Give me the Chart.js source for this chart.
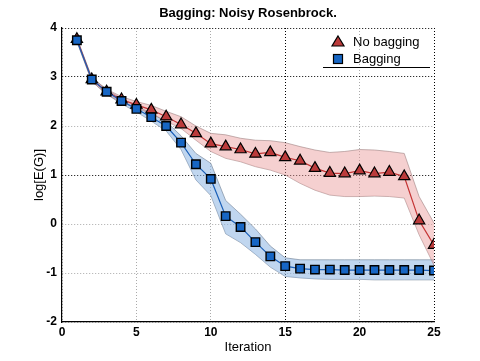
<!DOCTYPE html>
<html>
<head>
<meta charset="utf-8">
<script src="https://cdn.jsdelivr.net/npm/chart.js@4"></script>
<style>
  html, body { margin: 0; padding: 0; background: #fff; }
  #wrap { width: 480px; height: 361px; }
</style>
</head>
<body>
<div id="wrap"><canvas id="chart" width="480" height="361"></canvas></div>
<script>
// Iterations on the x axis
const iterations = [1, 2, 3, 4, 5, 6, 7, 8, 9, 10, 11, 12, 13, 14, 15, 16, 17, 18, 19, 20, 21, 22, 23, 24, 25];

// No bagging: mean and shaded band
const noBagMean  = [3.77, 2.95, 2.70, 2.54, 2.43, 2.33, 2.19, 2.03, 1.85, 1.64, 1.58, 1.52, 1.43, 1.46, 1.36, 1.29, 1.14, 1.04, 1.03, 1.09, 1.03, 1.06, 0.97, 0.07, -0.43];
const noBagUpper = [3.80, 2.99, 2.75, 2.60, 2.50, 2.42, 2.30, 2.19, 2.00, 1.85, 1.82, 1.75, 1.71, 1.70, 1.66, 1.58, 1.51, 1.46, 1.48, 1.52, 1.51, 1.48, 1.44, 0.56, 0.02];
const noBagLower = [3.74, 2.91, 2.65, 2.48, 2.37, 2.25, 2.10, 1.95, 1.71, 1.48, 1.34, 1.27, 1.17, 1.10, 1.00, 0.83, 0.69, 0.59, 0.56, 0.56, 0.57, 0.56, 0.53, -0.22, -0.84];

// Bagging: mean and shaded band
const bagMean  = [3.75, 2.95, 2.70, 2.51, 2.35, 2.18, 2.00, 1.66, 1.22, 0.92, 0.16, -0.06, -0.37, -0.66, -0.86, -0.91, -0.93, -0.93, -0.94, -0.94, -0.94, -0.94, -0.94, -0.94, -0.95];
const bagUpper = [3.78, 2.99, 2.74, 2.56, 2.41, 2.26, 2.09, 1.80, 1.44, 1.24, 0.48, 0.20, -0.10, -0.45, -0.69, -0.73, -0.73, -0.73, -0.73, -0.73, -0.73, -0.73, -0.73, -0.73, -0.73];
const bagLower = [3.72, 2.91, 2.65, 2.45, 2.29, 2.10, 1.90, 1.52, 0.90, 0.58, -0.20, -0.38, -0.62, -0.88, -1.07, -1.10, -1.12, -1.13, -1.13, -1.13, -1.14, -1.14, -1.14, -1.14, -1.14];

// Axis ticks
const xTicks = [0, 5, 10, 15, 20, 25];
const yTicks = [-2, -1, 0, 1, 2, 3, 4];

const RED = '#bb3b3b';
const BLUE = '#1766c4';
const FONT = '"Liberation Sans", Arial, sans-serif';

function pts(vals) {
    return iterations.map((x, i) => ({ x: x, y: vals[i] }));
}

// Title centred over the plot area, legend inside the plot top right
const overlay = {
    id: 'overlay',
    afterDraw(chart) {
        const { ctx, chartArea } = chart;
        ctx.save();
        ctx.fillStyle = '#000';
        ctx.font = 'bold 13px ' + FONT;
        ctx.textAlign = 'center';
        ctx.textBaseline = 'middle';
        ctx.fillText('Bagging: Noisy Rosenbrock.', (chartArea.left + chartArea.right) / 2, 13);

        const x0 = chartArea.right - 111;
        const y0 = chartArea.top + 14;
        ctx.textAlign = 'left';
        ctx.font = '13px ' + FONT;
        ctx.lineWidth = 1.2;
        ctx.strokeStyle = '#000';
        // triangle
        ctx.beginPath();
        ctx.moveTo(x0 + 15, y0 - 6);
        ctx.lineTo(x0 + 21, y0 + 4);
        ctx.lineTo(x0 + 9, y0 + 4);
        ctx.closePath();
        ctx.fillStyle = RED;
        ctx.fill();
        ctx.stroke();
        // square
        ctx.fillStyle = BLUE;
        ctx.fillRect(x0 + 10.5, y0 + 12.5, 9, 9);
        ctx.strokeRect(x0 + 10.5, y0 + 12.5, 9, 9);
        ctx.fillStyle = '#000';
        ctx.fillText('No bagging', x0 + 30, y0);
        ctx.fillText('Bagging', x0 + 30, y0 + 17);
        ctx.beginPath();
        ctx.moveTo(x0, y0 + 25.5);
        ctx.lineTo(chartArea.right - 4, y0 + 25.5);
        ctx.lineWidth = 1;
        ctx.stroke();
        ctx.restore();
    }
};

const darkGridX = [15, 25];
const darkGridY = [1, 3, 4];

new Chart(document.getElementById('chart'), {
    type: 'line',
    data: {
        datasets: [
            {
                label: 'No bagging',
                data: pts(noBagMean),
                borderColor: '#c43434',
                borderWidth: 1.2,
                pointStyle: 'triangle',
                pointRadius: 6.5,
                pointBackgroundColor: RED,
                pointBorderColor: '#000',
                pointBorderWidth: 1.2,
                fill: false,
                order: 1
            },
            {
                label: 'Bagging',
                data: pts(bagMean),
                borderColor: '#1a5fb8',
                borderWidth: 1.2,
                pointStyle: 'rect',
                pointRadius: 6,
                pointBackgroundColor: BLUE,
                pointBorderColor: '#000',
                pointBorderWidth: 1.4,
                fill: false,
                order: 0
            },
            {
                label: 'noBagUpper',
                data: pts(noBagUpper),
                borderColor: 'rgba(150,120,120,0.55)',
                borderWidth: 1,
                pointRadius: 0,
                backgroundColor: 'rgba(232,150,150,0.45)',
                fill: '+1',
                order: 2
            },
            {
                label: 'noBagLower',
                data: pts(noBagLower),
                borderColor: 'rgba(150,120,120,0.55)',
                borderWidth: 1,
                pointRadius: 0,
                fill: false,
                order: 2
            },
            {
                label: 'bagUpper',
                data: pts(bagUpper),
                borderColor: 'rgba(110,125,145,0.6)',
                borderWidth: 1,
                pointRadius: 0,
                backgroundColor: 'rgba(140,180,225,0.55)',
                fill: '+1',
                order: 3
            },
            {
                label: 'bagLower',
                data: pts(bagLower),
                borderColor: 'rgba(110,125,145,0.6)',
                borderWidth: 1,
                pointRadius: 0,
                fill: false,
                order: 3
            }
        ]
    },
    options: {
        responsive: false,
        animation: false,
        events: [],
        layout: { padding: { left: 0, right: 46, top: 0, bottom: 0 } },
        plugins: {
            legend: { display: false },
            tooltip: { enabled: false },
            title: {
                // keeps the space at the top; the text itself is drawn by the overlay
                display: true,
                text: 'Bagging: Noisy Rosenbrock.',
                color: 'rgba(0,0,0,0)',
                font: { family: FONT, size: 13, weight: 'bold', lineHeight: 1.2 },
                padding: { top: 5, bottom: 7.4 }
            }
        },
        scales: {
            x: {
                type: 'linear',
                min: 0,
                max: 25,
                afterBuildTicks: (scale) => { scale.ticks = xTicks.map(v => ({ value: v })); },
                afterFit: (scale) => { scale.height = 39; },
                ticks: {
                    color: '#000',
                    padding: 3,
                    maxRotation: 0,
                    font: { family: FONT, size: 12, weight: 'bold' }
                },
                grid: {
                    drawTicks: false,
                    lineWidth: 1,
                    color: (c) => darkGridX.includes(c.tick && c.tick.value) ? '#000' : '#aaa'
                },
                border: { display: true, color: '#000', width: 1.2, dash: [1, 2] },
                title: {
                    display: true,
                    text: 'Iteration',
                    color: '#000',
                    font: { family: FONT, size: 13, lineHeight: 1.2 },
                    padding: { top: 0, bottom: 6 }
                }
            },
            y: {
                type: 'linear',
                min: -2,
                max: 4,
                afterBuildTicks: (scale) => { scale.ticks = yTicks.map(v => ({ value: v })); },
                afterFit: (scale) => { scale.width = 62; },
                ticks: {
                    color: '#000',
                    padding: 5,
                    font: { family: FONT, size: 12, weight: 'bold' }
                },
                grid: {
                    drawTicks: false,
                    lineWidth: 1,
                    color: (c) => darkGridY.includes(c.tick && c.tick.value) ? '#000' : '#aaa'
                },
                border: { display: true, color: '#000', width: 1.2, dash: [1, 2] },
                title: {
                    display: true,
                    text: 'log[E(G)]',
                    color: '#000',
                    font: { family: FONT, size: 13, lineHeight: 1.2 },
                    padding: { top: 32, bottom: 0 }
                }
            }
        }
    },
    plugins: [overlay]
});
</script>
</body>
</html>
